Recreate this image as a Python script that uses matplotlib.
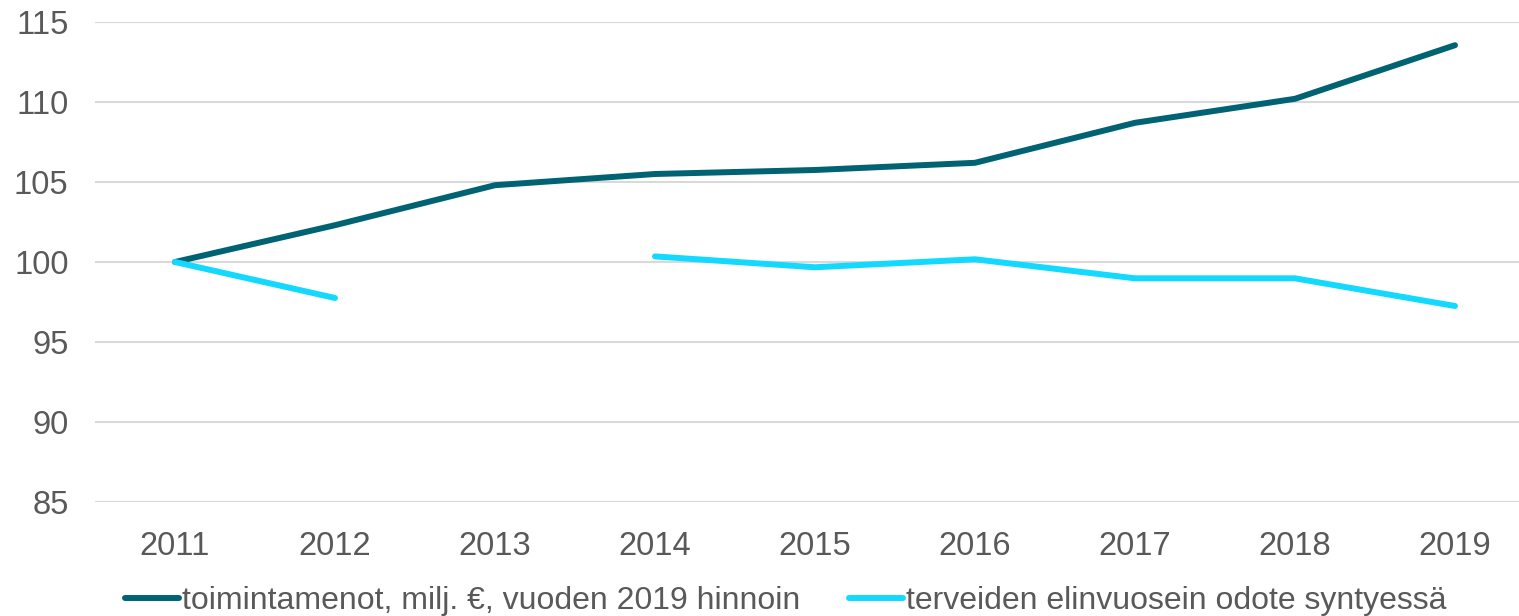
import matplotlib
matplotlib.use("Agg")
import matplotlib.pyplot as plt
import numpy as np

years = ["2011", "2012", "2013", "2014", "2015", "2016", "2017", "2018", "2019"]
toimintamenot = [100.0, 102.3, 104.8, 105.5, 105.75, 106.2, 108.7, 110.2, 113.55]
terveet = [100.0, 97.75, np.nan, 100.35, 99.67, 100.17, 98.98, 98.98, 97.25]
yticks = [85, 90, 95, 100, 105, 110, 115]

label1 = "toimintamenot, milj. €, vuoden 2019 hinnoin"
label2 = "terveiden elinvuosein odote syntyessä"

plt.rcParams['font.family'] = ['Liberation Sans', 'DejaVu Sans']
text_color = "#595959"

fig = plt.figure(figsize=(15.19, 6.16), dpi=100)
ax = fig.add_axes([95/1519, 1-502/616, 1440/1519, 480/616])

x = np.arange(len(years))
l1, = ax.plot(x, toimintamenot, color="#006374", lw=4.3, solid_capstyle="round", solid_joinstyle="round", label=label1)
l2, = ax.plot(x, terveet, color="#14D9FF", lw=4.3, solid_capstyle="round", solid_joinstyle="round", label=label2)

ax.set_xlim(-0.5, len(years) - 0.5)
ax.set_ylim(85, 115)
ax.set_yticks(yticks)
ax.set_xticks(x)
ax.set_xticklabels(years)
ax.yaxis.grid(True, color="#D9D9D9", lw=1.5)
ax.set_axisbelow(True)
for s in ax.spines.values():
    s.set_visible(False)
ax.tick_params(axis="both", length=0, labelsize=23.5, colors=text_color)
ax.tick_params(axis="y", pad=19)
ax.tick_params(axis="x", pad=21)

leg = fig.legend(handles=[l1, l2], loc="center left", bbox_to_anchor=(125/1519, 1-601/616),
                 ncol=2, frameon=False, fontsize=23, handlelength=1.7, handletextpad=0.1,
                 columnspacing=1.5, borderpad=0, borderaxespad=0)
for t in leg.get_texts():
    t.set_color(text_color)

fig.savefig("out.png", dpi=100)
